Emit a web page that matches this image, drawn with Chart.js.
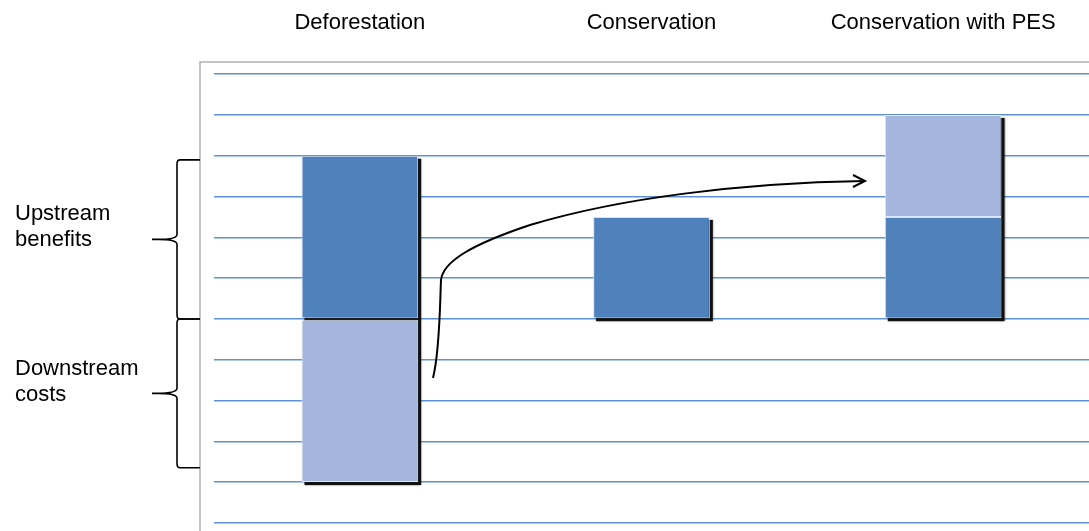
<!DOCTYPE html>
<html lang="en">
  <head>
    <meta charset="UTF-8" />
    <title>Deforestation vs Conservation with PES</title>
    <style>
      html, body { margin: 0; padding: 0; background: #fff; }
      #wrap { width: 1089px; height: 531px; }
    </style>
  </head>
  <body>
    <div id="wrap"><canvas id="pesChart" width="1089" height="531"></canvas></div>

    <script src="https://cdn.jsdelivr.net/npm/chart.js"></script>
    <script>
      // categories and values (units = gridline steps)
      const categories = ["Deforestation", "Conservation", "Conservation with PES"];
      const upstream = [4, 2.5, 2.5];      // dark blue part
      const otherPart = [-4, 0, 2.5];      // light blue: downstream costs / PES payment
      const gridValues = [-5, -4, -3, -2, -1, 0, 1, 2, 3, 4, 5, 6];
      const yMin = -5.2;
      const yMax = 6.3;

      const darkBlue = "#4f81bd";
      const lightBlue = "#a4b6dd";
      const gridBlue = "#5f92d2";
      const font = "'Liberation Sans', Arial, sans-serif";

      // black drop shadow behind each stacked bar
      const shadowPlugin = {
        id: "barShadow",
        beforeDatasetsDraw(chart) {
          const ctx = chart.ctx;
          const metas = chart.getSortedVisibleDatasetMetas();
          ctx.save();
          for (let i = 0; i < categories.length; i++) {
            let top = Infinity, bottom = -Infinity, left = 0, right = 0;
            metas.forEach((m) => {
              const el = m.data[i];
              if (!el) return;
              const p = el.getProps(["x", "y", "base", "width"], true);
              if (Math.abs(p.y - p.base) < 0.5) return;
              top = Math.min(top, p.y, p.base);
              bottom = Math.max(bottom, p.y, p.base);
              left = p.x - p.width / 2;
              right = p.x + p.width / 2;
            });
            if (top === Infinity) continue;
            ctx.fillStyle = "#111";
            ctx.shadowColor = "rgba(0,0,0,0.5)";
            ctx.shadowBlur = 2;
            ctx.fillRect(left + 3, top + 3, right - left, bottom - top);
          }
          ctx.restore();
        },
      };

      // frame, braces, labels and arrow
      const annotatePlugin = {
        id: "annotate",
        beforeDraw(chart) {
          const ctx = chart.ctx;
          const a = chart.chartArea;
          ctx.save();
          ctx.strokeStyle = "#b0b0b0";
          ctx.lineWidth = 1.5;
          ctx.beginPath();
          ctx.moveTo(a.left - 14, chart.height);
          ctx.lineTo(a.left - 14, a.top);
          ctx.lineTo(chart.width, a.top);
          ctx.stroke();
          ctx.restore();
        },
        afterDraw(chart) {
          const ctx = chart.ctx;
          const y = chart.scales.y;
          ctx.save();
          ctx.strokeStyle = "#000";
          ctx.lineWidth = 1.6;

          function brace(y1, y2, x, tipX, leftX) {
            const mid = (y1 + y2) / 2;
            ctx.beginPath();
            ctx.moveTo(tipX, y1);
            ctx.lineTo(x + 3, y1);
            ctx.quadraticCurveTo(x, y1, x, y1 + 4);
            ctx.lineTo(x, mid - 5);
            ctx.quadraticCurveTo(x, mid, leftX + 6, mid);
            ctx.lineTo(leftX, mid);
            ctx.moveTo(leftX + 6, mid);
            ctx.quadraticCurveTo(x, mid, x, mid + 5);
            ctx.lineTo(x, y2 - 4);
            ctx.quadraticCurveTo(x, y2, x + 3, y2);
            ctx.lineTo(tipX, y2);
            ctx.stroke();
          }
          brace(y.getPixelForValue(3.9), y.getPixelForValue(0), 177, 200, 152);
          brace(y.getPixelForValue(0), y.getPixelForValue(-3.65), 177, 200, 152);

          ctx.fillStyle = "#000";
          ctx.font = "22px " + font;
          ctx.textBaseline = "middle";
          ctx.textAlign = "left";
          ctx.fillText("Upstream", 15, 214);
          ctx.fillText("benefits", 15, 240);
          ctx.fillText("Downstream", 15, 369);
          ctx.fillText("costs", 15, 395);

          // curved arrow from deforestation to conservation with PES
          ctx.lineWidth = 2;
          ctx.beginPath();
          ctx.moveTo(433, 378);
          ctx.bezierCurveTo(440, 350, 440, 300, 441, 280);
          ctx.bezierCurveTo(443, 262, 470, 245, 530, 225);
          ctx.bezierCurveTo(620, 198, 740, 183, 864, 181);
          ctx.stroke();
          ctx.beginPath();
          ctx.moveTo(853, 175);
          ctx.lineTo(865, 181);
          ctx.lineTo(853, 187);
          ctx.stroke();
          ctx.restore();
        },
      };

      const config = {
        type: "bar",
        data: {
          labels: categories,
          datasets: [
            {
              label: "Upstream benefits",
              data: upstream,
              backgroundColor: darkBlue,
              borderColor: "#d6e1ef",
              borderWidth: 1,
              borderSkipped: false,
              barPercentage: 0.4,
              categoryPercentage: 1,
            },
            {
              label: "Downstream costs / PES",
              data: otherPart,
              backgroundColor: lightBlue,
              borderColor: "#e3e9f4",
              borderWidth: 1,
              borderSkipped: false,
              barPercentage: 0.4,
              categoryPercentage: 1,
            },
          ],
        },
        options: {
          responsive: false,
          animation: false,
          plugins: {
            legend: { display: false },
            tooltip: { enabled: false },
          },
          layout: {
            padding: { left: 214, right: 0, top: 0, bottom: 0 },
          },
          scales: {
            x: {
              position: "top",
              stacked: true,
              grid: { display: false, drawTicks: false },
              border: { display: false },
              ticks: {
                color: "#000",
                padding: 26,
                font: { family: font, size: 22 },
                maxRotation: 0,
              },
              afterFit(scale) { scale.height = 62; },
            },
            y: {
              stacked: true,
              min: yMin,
              max: yMax,
              afterBuildTicks(scale) {
                scale.ticks = gridValues.map((v) => ({ value: v }));
              },
              ticks: { display: false },
              grid: { color: gridBlue, lineWidth: 1.5, drawTicks: false },
              border: { display: false },
              afterFit(scale) { scale.width = 0; },
            },
          },
        },
        plugins: [annotatePlugin, shadowPlugin],
      };

      new Chart(document.getElementById("pesChart").getContext("2d"), config);
    </script>
  </body>
</html>
